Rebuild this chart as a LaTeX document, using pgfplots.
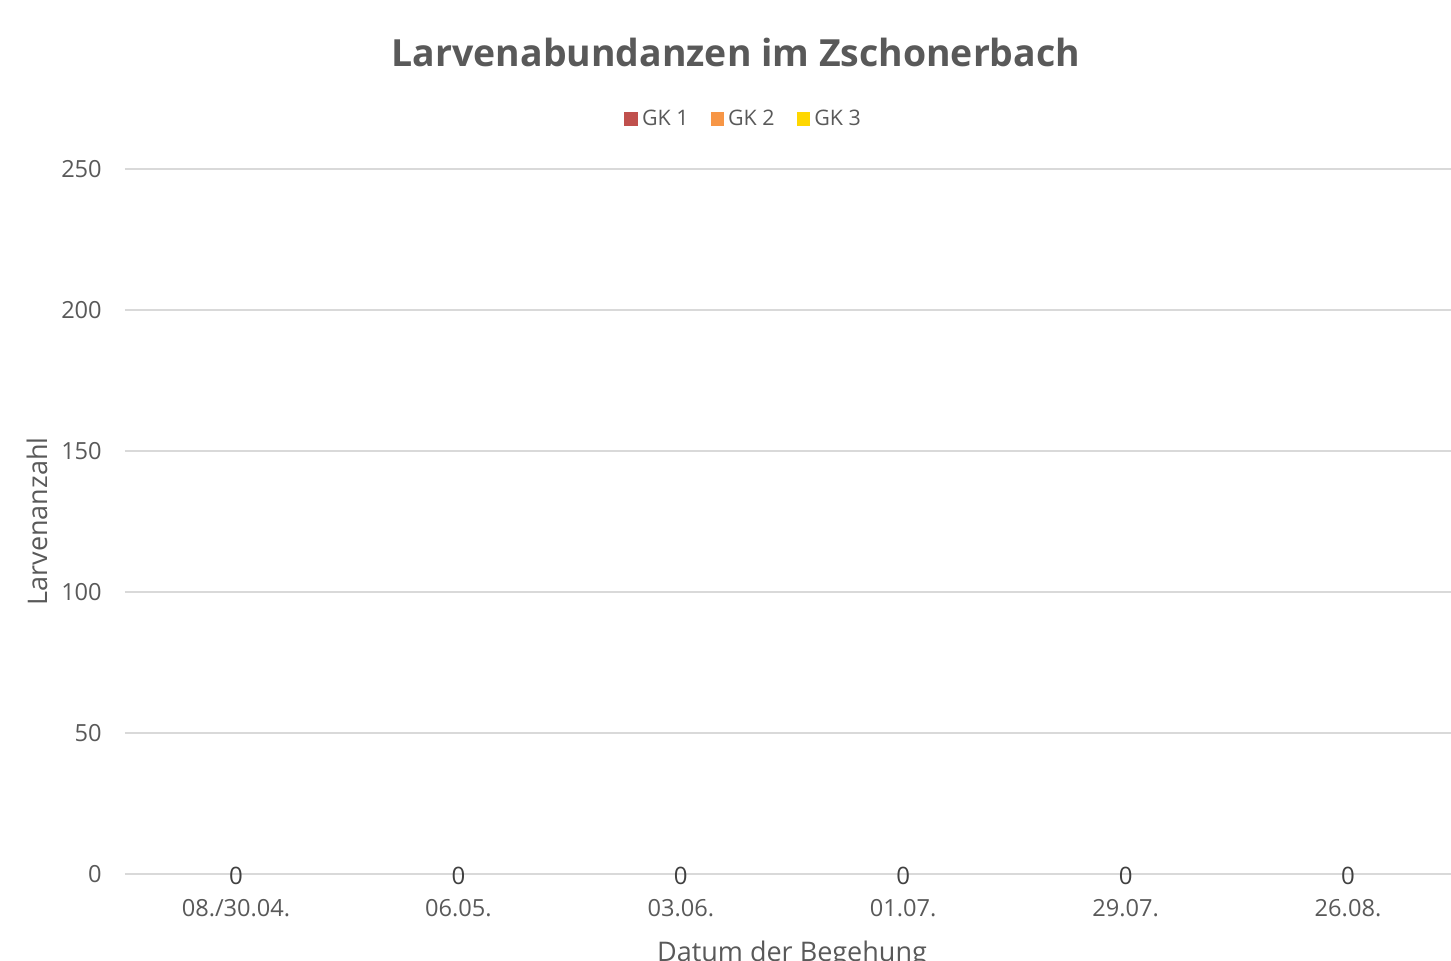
\documentclass[border=0pt]{standalone}
\usepackage{fontspec}
\setmainfont{Open Sans}
\usepackage{pgfplots}
\pgfplotsset{compat=1.18}
\definecolor{gk1}{HTML}{C0504D}
\definecolor{gk2}{HTML}{F79646}
\definecolor{gk3}{HTML}{FFD700}
\definecolor{txt}{HTML}{595959}
\definecolor{lbl}{HTML}{404040}
\definecolor{grd}{HTML}{D9D9D9}
\begin{document}
\begin{tikzpicture}
\path[use as bounding box] (0,0) rectangle (725.5pt,480.5pt);
\begin{axis}[
  at={(62.4pt,43.5pt)}, anchor=south west,
  scale only axis, width=667.2pt, height=352.5pt,
  ybar stacked, bar width=60pt,
  xmin=-0.5, xmax=5.5, ymin=0, ymax=250,
  xtick={0,1,2,3,4,5},
  xticklabels={08./30.04.,06.05.,03.06.,01.07.,29.07.,26.08.},
  ytick={0,50,100,150,200,250},
  ymajorgrids, grid style={grd, line width=0.75pt},
  axis line style={draw=none},
  major tick length=0pt,
  tick label style={font=\fontsize{11.8}{14}\selectfont, text=txt},
  /pgf/number format/assume math mode=true,
  yticklabel style={xshift=-8pt},
  xticklabel style={yshift=-9pt},
  title={Larvenabundanzen im Zschonerbach},
  title style={at={(0.458,1)}, anchor=center, yshift=52.5pt, font=\fontsize{18.7}{22}\selectfont\bfseries, text=txt},
  xlabel={Datum der Begehung},
  ylabel={Larvenanzahl},
  every axis x label/.style={at={(axis description cs:0.5,0)}, anchor=center, yshift=-40pt, font=\fontsize{13.5}{16}\selectfont, text=txt},
  every axis y label/.style={at={(axis description cs:-0.0658,0.5)}, anchor=center, rotate=90, font=\fontsize{13.5}{16}\selectfont, text=txt},
  legend style={at={(0.4645,1)}, anchor=center, yshift=25pt, draw=none, fill=none,
    font=\fontsize{10.7}{13}\selectfont, text=txt, /tikz/every even column/.append style={column sep=9pt}},
  legend columns=3,
  legend image code/.code={\fill[#1] (-1.5pt,-3.4pt) rectangle (5.3pt,3.4pt);},
]
\addplot[fill=gk1, draw=none] coordinates {(0,0) (1,0) (2,0) (3,0) (4,0) (5,0)};
\addplot[fill=gk2, draw=none] coordinates {(0,0) (1,0) (2,0) (3,0) (4,0) (5,0)};
\addplot[fill=gk3, draw=none] coordinates {(0,0) (1,0) (2,0) (3,0) (4,0) (5,0)};
\legend{GK 1, GK 2, GK 3}
\end{axis}
\begin{axis}[
  at={(62.4pt,43.5pt)}, anchor=south west,
  scale only axis, width=667.2pt, height=352.5pt,
  xmin=-0.5, xmax=5.5, ymin=0, ymax=250,
  hide axis, clip=false,
  /pgf/number format/assume math mode=true,
]
\addplot[draw=none, mark=none, nodes near coords,
  every node near coord/.append style={anchor=center, yshift=-1pt, font=\fontsize{12}{14}\selectfont, text=lbl}]
  coordinates {(0,0) (1,0) (2,0) (3,0) (4,0) (5,0)};
\end{axis}
\end{tikzpicture}
\end{document}
